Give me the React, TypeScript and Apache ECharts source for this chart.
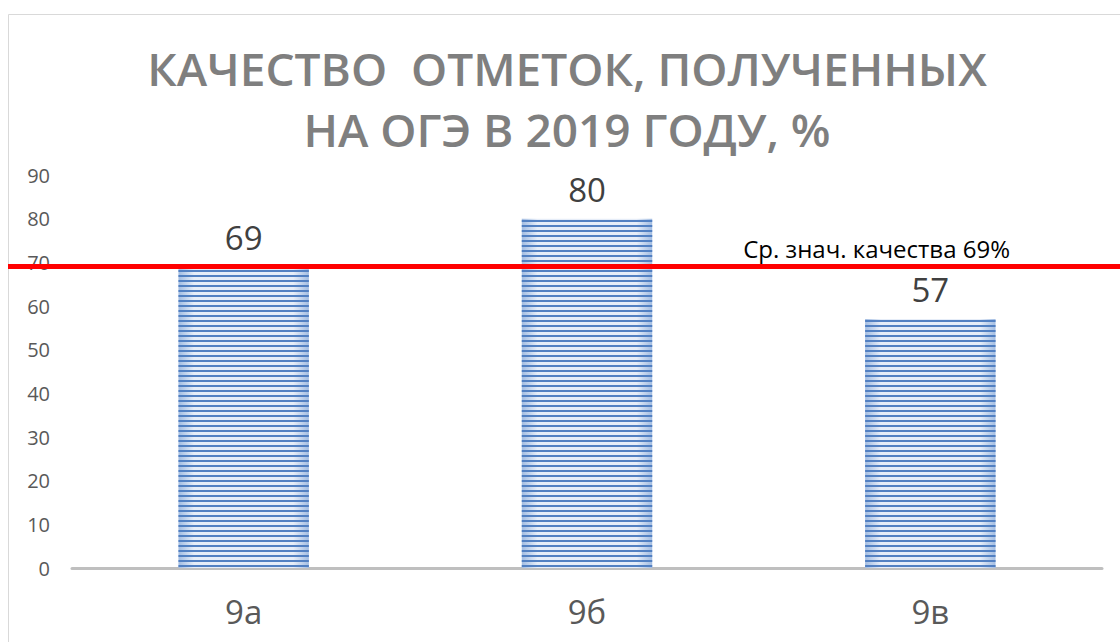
import React, { useEffect, useRef } from "react";
import * as echarts from "echarts";

const categories = ["9а", "9б", "9в"];
const values = [69, 80, 57];
const averageValue = 69;
const averageLabel = "Ср. знач. качества 69%";
const titleLines = ["КАЧЕСТВО  ОТМЕТОК, ПОЛУЧЕННЫХ", "НА ОГЭ В 2019 ГОДУ, %"];
const yMin = 0;
const yMax = 90;
const yInterval = 10;

export default function App() {
  const ref = useRef<HTMLDivElement>(null);
  useEffect(() => {
    document.body.style.margin = "0";
    const chart = echarts.init(ref.current!, null, { renderer: "svg" });
    const font = "'Open Sans', 'Noto Sans', sans-serif";
    const option: any = {
      animation: false,
      backgroundColor: "#ffffff",
      aria: { enabled: true, label: { enabled: false }, decal: { show: true } },
      graphic: [
        {
          type: "rect",
          silent: true,
          z: -10,
          shape: { x: 8.5, y: 14.5, width: 1130, height: 650 },
          style: { fill: "none", stroke: "#d9d9d9", lineWidth: 1 },
        },
        {
          type: "text",
          x: 567,
          y: 68,
          style: {
            text: titleLines[0],
            fill: "#7f7f7f",
            font: `600 46px ${font}`,
            align: "center",
            verticalAlign: "middle",
          },
        },
        {
          type: "text",
          x: 567,
          y: 129,
          style: {
            text: titleLines[1],
            fill: "#7f7f7f",
            font: `600 46px ${font}`,
            align: "center",
            verticalAlign: "middle",
          },
        },
      ],
      grid: [
        { left: 72, right: 18, top: 175, bottom: 74, containLabel: false },
        { left: 8, right: 0, top: 175, bottom: 74, containLabel: false },
      ],
      xAxis: [
        {
          type: "category",
          gridIndex: 0,
          data: categories,
          axisLine: { lineStyle: { color: "#bfbfbf", width: 3 } },
          axisTick: { show: false },
          axisLabel: { color: "#595959", fontSize: 33, fontFamily: font, margin: 27 },
        },
        { type: "value", gridIndex: 1, min: 0, max: 1, show: false },
      ],
      yAxis: [
        {
          type: "value",
          gridIndex: 0,
          min: yMin,
          max: yMax,
          interval: yInterval,
          axisLine: { show: false },
          axisTick: { show: false },
          splitLine: { show: false },
          axisLabel: { color: "#595959", fontSize: 20, fontFamily: font, margin: 22 },
        },
        { type: "value", gridIndex: 1, min: yMin, max: yMax, show: false },
      ],
      series: [
        {
          type: "bar",
          xAxisIndex: 0,
          yAxisIndex: 0,
          data: values,
          barWidth: "38%",
          itemStyle: {
            color: new echarts.graphic.LinearGradient(0, 0, 1, 0, [
              { offset: 0, color: "#a3bde2" },
              { offset: 0.12, color: "#e6edf8" },
              { offset: 0.88, color: "#e6edf8" },
              { offset: 1, color: "#a3bde2" },
            ]),
            decal: {
              symbol: "rect",
              symbolSize: 1,
              symbolKeepAspect: false,
              color: "#5280c2",
              backgroundColor: null,
              dashArrayX: [1, 0],
              dashArrayY: [2, 2.3],
              rotation: 0,
              maxTileWidth: 512,
              maxTileHeight: 512,
            },
          },
          label: {
            show: true,
            position: "top",
            distance: 13,
            color: "#404040",
            fontSize: 33,
            fontFamily: font,
          },
        },
        {
          type: "line",
          xAxisIndex: 1,
          yAxisIndex: 1,
          data: [],
          symbol: "none",
          markLine: {
            silent: true,
            symbol: ["none", "none"],
            lineStyle: { color: "#ff0000", width: 5, type: "solid" },
            label: {
              show: true,
              position: "insideEndTop",
              formatter: averageLabel,
              color: "#000000",
              fontSize: 24,
              fontFamily: font,
              distance: [110, 6],
            },
            data: [{ yAxis: averageValue }],
          },
        },
      ],
    };
    chart.setOption(option);
    return () => chart.dispose();
  }, []);
  return <div ref={ref} style={{ width: 1120, height: 642 }} />;
}
